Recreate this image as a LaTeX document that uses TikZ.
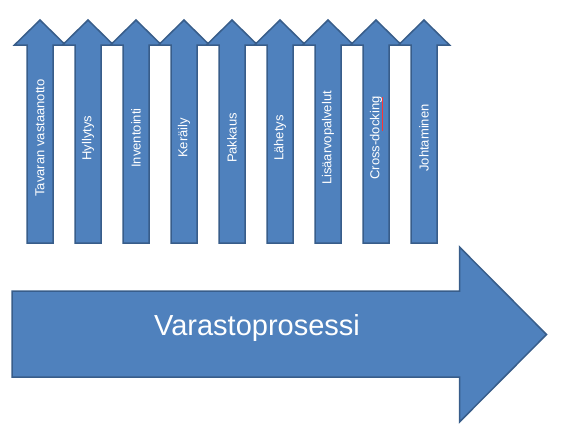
\documentclass[tikz,border=0pt]{standalone}
\usepackage{fontspec}
\setmainfont{Liberation Sans}
\definecolor{arrowfill}{HTML}{4F81BD}
\definecolor{arrowline}{HTML}{385D8A}
\begin{document}
\begin{tikzpicture}[x=1pt,y=-1pt,
  arrowshape/.style={fill=arrowfill,draw=arrowline,line width=1.5pt,line join=miter},
  uplabel/.style={text=white,font=\fontsize{13}{15}\selectfont,rotate=90,inner sep=0pt},
  biglabel/.style={text=white,font=\fontsize{29}{34}\selectfont,inner sep=0pt,anchor=base}]
\useasboundingbox (0,0) rectangle (562,432);
% top arrows
\foreach \i/\t in {0/{Tavaran vastaanotto},1/Hyllytys,2/Inventointi,3/Keräily,4/Pakkaus,5/Lähetys,6/Lisäarvopalvelut,7/Cross-docking,8/Johtaminen}{
  \pgfmathsetmacro{\cx}{40+48*\i}
  \draw[arrowshape] (\cx-13,243) -- (\cx-13,45) -- (\cx-25.5,45) -- (\cx,20) -- (\cx+25.5,45) -- (\cx+13,45) -- (\cx+13,243) -- cycle;
  \node[uplabel] (t\i) at (\cx,138) {\t};
}
% spell-check mark under "docking"
\draw[red!80!white,line width=0.6pt] (382,97) -- (382,131);
% big arrow
\draw[arrowshape] (12,291) -- (459.5,291) -- (459.5,247) -- (546.5,334.5) -- (459.5,422) -- (459.5,377) -- (12,377) -- cycle;
\node[biglabel] (main) at (257,335) {Varastoprosessi};
\end{tikzpicture}
\end{document}
